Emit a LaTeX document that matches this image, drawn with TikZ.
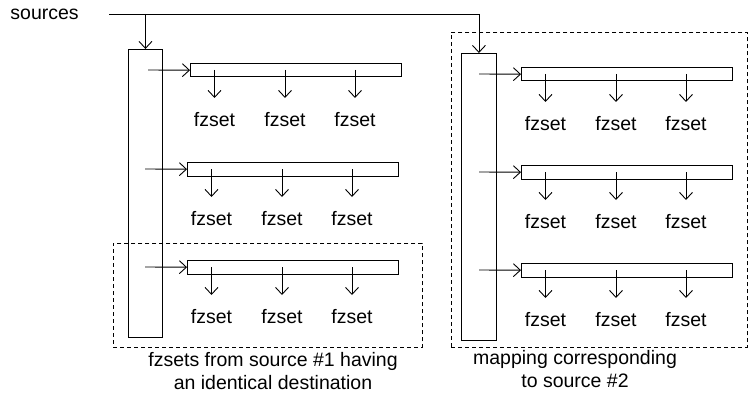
\documentclass[tikz,border=0pt]{standalone}
\usepackage{fontspec}
\setmainfont{Liberation Sans}
\usetikzlibrary{arrows.meta}
\begin{document}
\begin{tikzpicture}[x=1pt,y=-1pt,
  line width=0.9pt,
  colbox/.style={draw, inner sep=0pt, anchor=north west},
  barbox/.style={draw, inner sep=0pt, minimum width=211pt, minimum height=13.5pt, anchor=north west},
  lbl/.style={font=\fontsize{19.5}{23.5}\selectfont, inner sep=0pt},
  arr/.style={-{Straight Barb[length=7pt,width=13pt]}},
  dbox/.style={draw, dash pattern=on 4pt off 3pt, inner sep=0pt, anchor=north west}]
\useasboundingbox (0,0) rectangle (749,401);
% dashed groups
\node[dbox, minimum width=309pt, minimum height=104pt] (d1) at (113,243) {};
\node[dbox, minimum width=296pt, minimum height=315pt] (d2) at (451,32) {};
% columns
\node[colbox, minimum width=34pt, minimum height=288pt] (col1) at (128,49) {};
\node[colbox, minimum width=35pt, minimum height=287pt] (col2) at (461,53) {};
% sources
\node[lbl, anchor=west] (src) at (10,14) {sources};
\coordinate (s0) at (109,14);
\coordinate (j1) at (col1.north |- s0);
\coordinate (j2) at (col2.north |- s0);
\draw (s0) -- (j2);
\draw[arr] (j1) -- (col1.north);
\draw[arr] (j2) -- (col2.north);
% bars
\foreach \n/\bx/\by/\sx in {b11/190/63/148, b12/187/162/145, b13/187/260/145, b21/521/67/479, b22/521/165/479, b23/521/263/479} {
  \node[barbox] (\n) at (\bx,\by) {};
  \coordinate (\n s) at (\sx,\by+7);
  \draw[arr] (\n s) -- (\n.west);
  \foreach \k/\dx in {a/24.5, b/95, c/165} {
    \node[lbl] (\n\k) at (\bx+\dx,\by+56.5) {fzset};
    \coordinate (\n\k t) at (\bx+\dx,\by+7);
    \coordinate (\n\k e) at (\bx+\dx,\by+35);
    \draw[arr] (\n\k t) -- (\n\k e);
  }
}
% captions
\node[lbl, align=center] (c1) at (273,371) {fzsets from source \#1 having\\an identical destination};
\node[lbl, align=center] (c2) at (575,369) {mapping corresponding\\to source \#2};
\end{tikzpicture}
\end{document}
